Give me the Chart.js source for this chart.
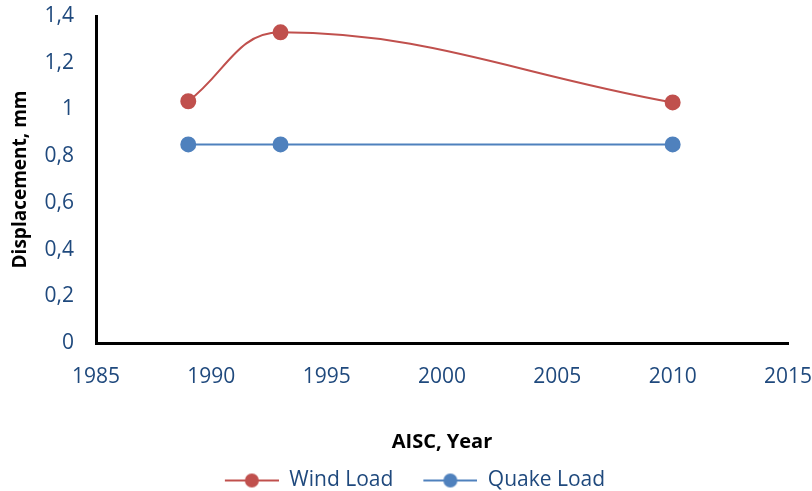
<!DOCTYPE html>
<html>
<head>
<meta charset="utf-8">
<script src="https://cdn.jsdelivr.net/npm/chart.js@4/dist/chart.umd.min.js"></script>
<style>
  html, body { margin: 0; padding: 0; background: #fff; }
  #wrap { width: 812px; height: 491px; }
</style>
</head>
<body>
<div id="wrap"><canvas id="myChart" width="812" height="491"></canvas></div>
<script>
// data
const years = [1989, 1993, 2010];
const windLoad = [1.035, 1.33, 1.03];
const quakeLoad = [0.85, 0.85, 0.85];
const seriesNames = ['Wind Load', 'Quake Load'];
const seriesColors = ['#C0504D', '#4F81BD'];

const tickColor = '#1F497D';
const fontFamily = "'Open Sans', 'Noto Sans', sans-serif";

// legend marker: short line with a dot in the middle (like Excel)
// blank space on the left acts as the gap between legend items
function legendMarker(color){
    const c = document.createElement('canvas');
    c.width = 84; c.height = 16;
    const g = c.getContext('2d');
    g.strokeStyle = color;
    g.lineWidth = 2;
    g.beginPath();
    g.moveTo(30, 8); g.lineTo(84, 8);
    g.stroke();
    g.fillStyle = color;
    g.beginPath();
    g.arc(57, 8, 7, 0, Math.PI * 2);
    g.fill();
    return c;
}

function toPoints(ys){
    return years.map((x, i) => ({x: x, y: ys[i]}));
}

const ctx = document.getElementById('myChart');
const myChart = new Chart(ctx, {
    type: 'scatter',
    data: {
        datasets: [{
            label: seriesNames[0],
            data: toPoints(windLoad),
            showLine: true,
            tension: 0.4,
            borderColor: seriesColors[0],
            backgroundColor: seriesColors[0],
            borderWidth: 2,
            pointRadius: 7,
            pointHoverRadius: 7,
            pointStyle: 'circle'
        }, {
            label: seriesNames[1],
            data: toPoints(quakeLoad),
            showLine: true,
            tension: 0,
            borderColor: seriesColors[1],
            backgroundColor: seriesColors[1],
            borderWidth: 2,
            pointRadius: 7,
            pointHoverRadius: 7,
            pointStyle: 'circle'
        }]
    },
    options: {
        responsive: false,
        animation: false,
        layout: { padding: { top: 2, right: 12, left: 0, bottom: -10 } },
        plugins: {
            tooltip: { enabled: false },
            legend: {
                position: 'bottom',
                labels: {
                    usePointStyle: true,
                    pointStyleWidth: 84,
                    boxHeight: 16,
                    padding: 0,
                    color: tickColor,
                    font: { family: fontFamily, size: 21 },
                    generateLabels: chart => seriesNames.map((name, i) => ({
                        text: name,
                        fontColor: tickColor,
                        pointStyle: legendMarker(seriesColors[i]),
                        datasetIndex: i,
                        lineWidth: 0,
                        hidden: false
                    }))
                }
            }
        },
        scales: {
            x: {
                type: 'linear',
                min: 1985,
                max: 2015,
                grid: { display: false, drawTicks: false },
                border: { display: true, color: '#000', width: 3 },
                ticks: {
                    stepSize: 5,
                    padding: 21,
                    color: tickColor,
                    font: { family: fontFamily, size: 21 },
                    callback: v => String(v)
                },
                title: {
                    display: true,
                    text: 'AISC, Year',
                    color: '#000',
                    font: { family: fontFamily, size: 20, weight: 'bold' },
                    padding: { top: 40, bottom: 16 }
                },
                afterFit: scale => {
                    scale.height = 127;
                    // only half the label width overhangs, not the tick padding
                    scale.paddingLeft = 24;
                    scale.paddingRight = 24;
                }
            },
            y: {
                min: 0,
                max: 1.4,
                grid: { display: false, drawTicks: false },
                border: { display: true, color: '#000', width: 3 },
                ticks: {
                    stepSize: 0.2,
                    padding: 22,
                    color: tickColor,
                    font: { family: fontFamily, size: 21 },
                    callback: v => String(Math.round(v * 10) / 10).replace('.', ',')
                },
                title: {
                    display: true,
                    text: 'Displacement, mm',
                    color: '#000',
                    font: { family: fontFamily, size: 19, weight: 'bold' },
                    padding: { top: 9, bottom: 4 }
                },
                afterFit: scale => {
                    scale.width = 96;
                    scale.paddingTop = 16;
                    scale.paddingBottom = 13;
                }
            }
        }
    }
});
</script>
</body>
</html>
